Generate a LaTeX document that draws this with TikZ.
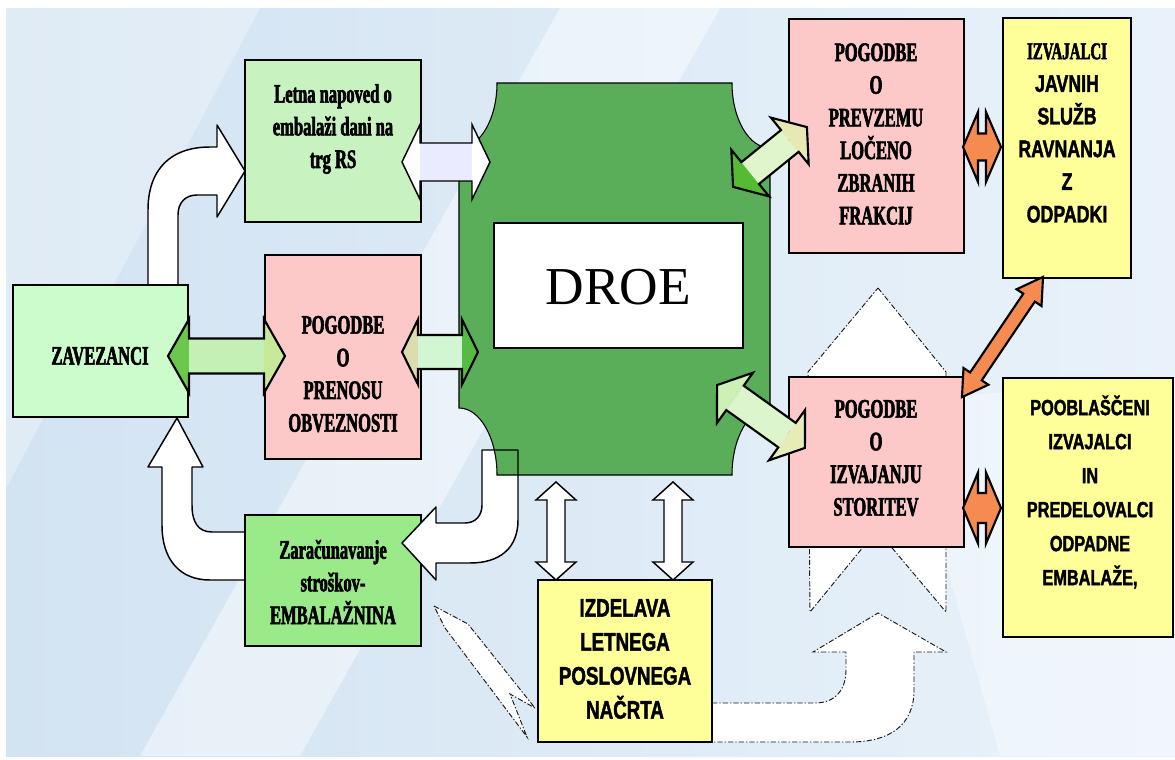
\documentclass[tikz,border=0pt]{standalone}
\usepackage{fontspec}
\setmainfont{Liberation Serif}
\newfontfamily\cserif[FakeStretch=0.62,FakeBold=2.2]{Liberation Serif Bold}
\newfontfamily\csans[FakeStretch=0.74,FakeBold=1.6]{Liberation Sans Bold}
\definecolor{bgA}{HTML}{D2E3F2}
\definecolor{bgB}{HTML}{E9F2FA}
\definecolor{lgreen}{HTML}{C8F2C0}
\definecolor{zgreen}{HTML}{CCFCCC}
\definecolor{mgreen}{HTML}{9AEA8A}
\definecolor{dgreen}{HTML}{5AAE5A}
\definecolor{pinkbox}{HTML}{FCC8C8}
\definecolor{yelbox}{HTML}{FFFF99}
\definecolor{orng}{HTML}{F68B52}
\colorlet{ca}{white}\colorlet{cb}{white}\colorlet{cc}{white}
% #1 line width, #2 cx, #3 cy, #4 angle, #5 half length, #6 head length, #7 head half width, #8 shaft half width
\newcommand\dbl[8]{%
\begin{scope}[shift={(#2,#3)},rotate=#4]
\fill[ca] (-#5,0) -- ({-#5+#6},#7) -- ({-#5+#6},-#7) -- cycle;
\fill[cb] ({-#5+#6},#8) rectangle ({#5-#6},-#8);
\fill[cc] (#5,0) -- ({#5-#6},#7) -- ({#5-#6},-#7) -- cycle;
\draw[line width=#1,line join=miter] (-#5,0) -- ({-#5+#6},#7) -- ({-#5+#6},#8) -- ({#5-#6},#8) -- ({#5-#6},#7) -- (#5,0) -- ({#5-#6},-#7) -- ({#5-#6},-#8) -- ({-#5+#6},-#8) -- ({-#5+#6},-#7) -- cycle;
\end{scope}}
\begin{document}
\begin{tikzpicture}[x=0.75pt,y=-0.75pt,
  box/.style={draw=black,line width=1.1pt,inner sep=0pt,anchor=center},
  ser/.style={font=\cserif\fontsize{20}{24.5}\selectfont,align=center,inner sep=0pt},
  san/.style={font=\csans\fontsize{17}{25}\selectfont,align=center,inner sep=0pt},
  wa/.style={fill=white,draw=black,line width=1.1pt,line join=round},
  dd/.style={fill=white,draw=black!90,line width=0.7pt,dash pattern=on 4pt off 1.5pt on 1pt off 1.5pt}]
\useasboundingbox (0,0) rectangle (1175,760);
\fill[white] (0,0) rectangle (1175,760);
\shade[left color=bgA,right color=bgB] (6,8) rectangle (1175,756);
\fill[white,opacity=0.45] (560,8) -- (720,8) -- (300,756) -- (140,756) -- cycle;
\fill[white,opacity=0.3] (0,8) -- (260,8) -- (0,500) -- cycle;
\fill[white,opacity=0.35] (900,400) -- (1175,380) -- (1175,756) -- (1000,756) -- cycle;

% dash-dot arrows
\path[dd] (878,288) -- (946,372) -- (946,612) -- (877,530) -- (810,612) -- (808,372) -- cycle;
\path[dd] (712,703) -- (815,703) .. controls (835,703) and (846,690) .. (846,670) -- (846,652) -- (813,652) -- (878,613) -- (946,652) -- (914,652) -- (914,690) .. controls (914,725) and (890,742) .. (850,742) -- (712,742) -- cycle;
\path[dd] (434,606) -- (468,624) -- (535,708) -- (510,694) -- (527,737) -- (445,628) -- cycle;

% white bent arrows
\path[wa] (148,288) -- (148,210) .. controls (148,170) and (170,147) .. (210,147) -- (217,147) -- (217,125) -- (245,171) -- (217,217) -- (217,195) -- (197,195) .. controls (185,195) and (178,203) .. (178,215) -- (178,288);
\path[wa] (246,532) -- (212,532) .. controls (198,532) and (192,522) .. (192,505) -- (192,467) -- (203,467) -- (177,418) -- (148,467) -- (162,467) -- (162,525) .. controls (162,560) and (180,580) .. (210,580) -- (246,580);
\fill[white] (482,450) -- (518,450) -- (518,520) .. controls (518,548) and (500,563) .. (470,563) -- (436,563) -- (436,580) -- (402,543) -- (436,507) -- (436,523) -- (465,523) .. controls (476,523) and (482,515) .. (482,505) -- cycle;

% DROE
\fill[dgreen] (497,83) -- (732,83) .. controls (732,119) and (749,148) .. (770,148) -- (770,408) .. controls (749,408) and (732,438) .. (732,475) -- (497,475) .. controls (497,438) and (480,408) .. (459,408) -- (459,148) .. controls (480,148) and (497,119) .. (497,83) -- cycle;
\draw[line width=0.8pt] (497,83) -- (732,83) .. controls (732,119) and (749,148) .. (770,148) -- (770,408) .. controls (749,408) and (732,438) .. (732,475) -- (497,475) .. controls (497,438) and (480,408) .. (459,408) -- (459,148) .. controls (480,148) and (497,119) .. (497,83) -- cycle;
\node[box,fill=white,line width=0.8pt,minimum width=186.75pt,minimum height=93.75pt] (droe) at (618.5,285.5) {};
\node[font=\fontsize{40}{40}\selectfont,inner sep=0pt] (droet) at (618.5,287) {DROE};

% boxes
\node[box,fill=lgreen,minimum width=132pt,minimum height=121.5pt] (letna) at (333,141) {};
\node[box,fill=zgreen,line width=2.2pt,minimum width=131.25pt,minimum height=99pt] (zav) at (100.5,351) {};
\node[box,fill=pinkbox,minimum width=117pt,minimum height=153pt] (prenosu) at (343,357) {};
\node[box,fill=mgreen,minimum width=132pt,minimum height=98.25pt] (zar) at (333,580.5) {};
\node[box,fill=pinkbox,minimum width=131.25pt,minimum height=175.5pt] (prevz) at (876.5,136) {};
\node[box,fill=yelbox,minimum width=96pt,minimum height=195pt] (izvjs) at (1067,148) {};
\node[box,fill=pinkbox,minimum width=131.25pt,minimum height=127.5pt] (izvaj) at (876.5,462) {};
\node[box,fill=yelbox,minimum width=127.5pt,minimum height=194.25pt] (poobl) at (1088,507.5) {};
\node[box,fill=yelbox,minimum width=130.5pt,minimum height=121.5pt] (izdel) at (625,661) {};

\node[ser] (letnat) at (333,129) {Letna napoved o\\embalaži dani na\\trg RS};
\node[ser] (zavt) at (100,356) {ZAVEZANCI};
\node[ser] (prenosut) at (343,374) {POGODBE\\O\\PRENOSU\\OBVEZNOSTI};
\node[ser] (zart) at (333,582) {Zaračunavanje\\stroškov-\\EMBALAŽNINA};
\node[ser] (prevzt) at (876,134) {POGODBE\\O\\PREVZEMU\\LOČENO\\ZBRANIH\\FRAKCIJ};
\node[san,font=\csans\fontsize{18}{24.5}\selectfont] (izvjst) at (1067,133) {{\cserif IZVAJALCI}\\JAVNIH\\SLUŽB\\RAVNANJA\\Z\\ODPADKI};
\node[ser] (izvajt) at (876,458) {POGODBE\\O\\IZVAJANJU\\STORITEV};
\node[san,font=\csans\fontsize{16.5}{25.5}\selectfont] (pooblt) at (1090,492) {POOBLAŠČENI\\IZVAJALCI\\IN\\PREDELOVALCI\\ODPADNE\\EMBALAŽE,};
\node[san,font=\csans\fontsize{19}{25.5}\selectfont] (izdelt) at (625,659) {IZDELAVA\\LETNEGA\\POSLOVNEGA\\NAČRTA};

% DROE -> Zaracunavanje arrow outline and head
\fill[white] (436,563) -- (436,580) -- (402,543) -- (436,507) -- (436,523) -- cycle;
\draw[line width=1.1pt,line join=round] (482,450) -- (518,450) -- (518,520) .. controls (518,548) and (500,563) .. (470,563) -- (436,563) -- (436,580) -- (402,543) -- (436,507) -- (436,523) -- (465,523) .. controls (476,523) and (482,515) .. (482,505) -- cycle;

% double arrows
\colorlet{ca}{white}\colorlet{cb}{white!92!blue}\colorlet{cc}{white}
\dbl{1.1pt}{446}{162}{0}{44}{18}{37.5}{19}
\colorlet{ca}{white}\colorlet{cb}{white}\colorlet{cc}{white}
\dbl{1.1pt}{556}{531}{90}{49}{18}{20}{9}
\dbl{1.1pt}{673}{531}{90}{49}{18}{20}{9}
\definecolor{ca}{HTML}{6CC84A}\definecolor{cb}{HTML}{C5F0B5}\definecolor{cc}{HTML}{C8E89A}
\dbl{1.6pt}{226.5}{356}{0}{58.5}{21}{37}{17.5}
\definecolor{ca}{HTML}{DDDCB0}\definecolor{cb}{HTML}{D2F5D2}\definecolor{cc}{HTML}{55BB44}
\dbl{1.6pt}{440}{352}{0}{38}{16}{32.5}{17}
\definecolor{ca}{HTML}{55BB33}\definecolor{cb}{HTML}{E0F5CC}\definecolor{cc}{HTML}{E8E8B5}
\dbl{1.6pt}{770}{157}{39}{47.5}{22}{30}{14}
\definecolor{ca}{HTML}{CCF0B5}\definecolor{cb}{HTML}{DDF5CC}\definecolor{cc}{HTML}{E5ECB8}
\dbl{1.6pt}{761}{416.5}{-35.6}{54}{22}{31}{15}
\colorlet{ca}{orng}\colorlet{cb}{orng}\colorlet{cc}{orng}
\dbl{1.6pt}{982}{147}{0}{19}{15}{35}{13.5}
\dbl{1.6pt}{982}{508}{0}{19}{15}{35.5}{15}
\dbl{1.6pt}{1002.5}{337}{56}{72.5}{25}{15}{7}
\end{tikzpicture}
\end{document}
